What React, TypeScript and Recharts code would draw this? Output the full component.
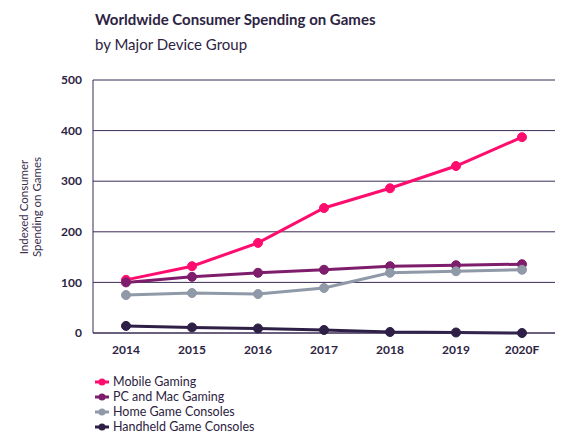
import React from "react";
import { LineChart, Line, XAxis, YAxis, CartesianGrid } from "recharts";

const years = ["2014", "2015", "2016", "2017", "2018", "2019", "2020F"];
const mobile = [105, 132, 178, 247, 286, 330, 387];
const pcMac = [100, 111, 119, 125, 132, 134, 136];
const homeConsoles = [75, 79, 77, 89, 119, 122, 125];
const handheld = [14, 11, 9, 6, 2, 1, 0];
const yTicks = [0, 100, 200, 300, 400, 500];

const series = [
  { key: "mobile", name: "Mobile Gaming", color: "#ff0d6e" },
  { key: "pc", name: "PC and Mac Gaming", color: "#7e1d6c" },
  { key: "home", name: "Home Game Consoles", color: "#8f99a8" },
  { key: "handheld", name: "Handheld Game Consoles", color: "#2e1f47" },
];

const data = years.map((year, i) => ({
  year,
  mobile: mobile[i],
  pc: pcMac[i],
  home: homeConsoles[i],
  handheld: handheld[i],
}));

const FONT = "Lato, 'Open Sans', sans-serif";
const INK = "#2d2342";

export default function App() {
  return (
    <div
      style={{
        position: "absolute",
        left: 0,
        top: 0,
        width: 570,
        height: 448,
        background: "#fff",
        fontFamily: FONT,
        color: INK,
      }}
    >
      <div style={{ position: "absolute", left: 95, top: 10, fontSize: 15, fontWeight: 700, whiteSpace: "nowrap" }}>
        Worldwide Consumer Spending on Games
      </div>
      <div style={{ position: "absolute", left: 95, top: 35, fontSize: 15, whiteSpace: "nowrap" }}>
        by Major Device Group
      </div>
      <svg width={60} height={448} style={{ position: "absolute", left: 0, top: 0 }}>
        <text
          transform="translate(31,207) rotate(-90)"
          textAnchor="middle"
          fontSize={11.5}
          fill="#3a2f4f"
          fontFamily={FONT}
        >
          <tspan x={0} dy={-3}>Indexed Consumer</tspan>
          <tspan x={0} dy={13}>Spending on Games</tspan>
        </text>
      </svg>
      <div style={{ position: "absolute", left: 0, top: 0 }}>
        <LineChart
          width={570}
          height={448}
          data={data}
          margin={{ top: 80, right: 15, bottom: 85, left: 0 }}
        >
          <CartesianGrid vertical={false} stroke="#3b2a55" strokeWidth={1} />
          <XAxis
            dataKey="year"
            padding={{ left: 33, right: 33 }}
            axisLine={{ stroke: "#3b2a55" }}
            tickLine={false}
            tickMargin={6}
            height={30}
            tick={{ fontSize: 12, fontWeight: 700, fill: INK, fontFamily: FONT }}
          />
          <YAxis
            ticks={yTicks}
            domain={[0, 500]}
            width={93}
            axisLine={{ stroke: "#3b2a55" }}
            tickLine={false}
            tickMargin={5}
            tick={{ fontSize: 12, fontWeight: 700, fill: INK, fontFamily: FONT }}
          />
          {series.map((s) => (
            <Line
              key={s.key}
              dataKey={s.key}
              name={s.name}
              stroke={s.color}
              strokeWidth={3}
              dot={{ r: 4.5, fill: s.color, stroke: s.color, strokeWidth: 1 }}
              isAnimationActive={false}
            />
          ))}
        </LineChart>
      </div>
      <div style={{ position: "absolute", left: 95, top: 374 }}>
        {series.map((s) => (
          <div key={s.key} style={{ display: "flex", alignItems: "center", height: 15, fontSize: 12.5 }}>
            <svg width={14} height={8} style={{ marginRight: 4 }}>
              <line x1={0} y1={4} x2={14} y2={4} stroke={s.color} strokeWidth={3} />
              <circle cx={7} cy={4} r={3.5} fill={s.color} />
            </svg>
            <span>{s.name}</span>
          </div>
        ))}
      </div>
    </div>
  );
}
